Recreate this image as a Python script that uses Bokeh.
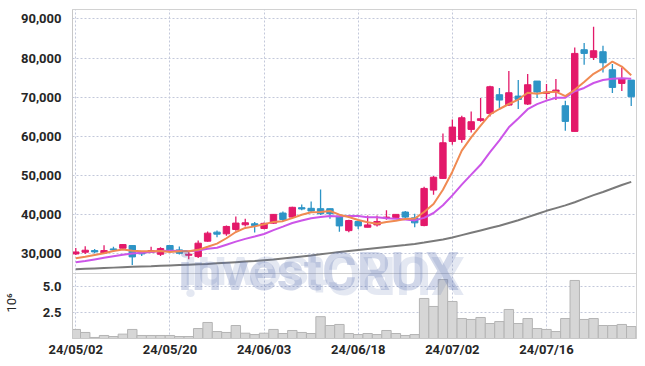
import math
from bokeh.plotting import figure
from bokeh.models import (Range1d, FixedTicker, NumeralTickFormatter, ColumnDataSource, Label, Span, Title)
from bokeh.embed import file_html
from bokeh.resources import INLINE

dates = ["24/05/02", "24/05/03", "24/05/07", "24/05/08", "24/05/09", "24/05/10", "24/05/13", "24/05/14",
         "24/05/16", "24/05/17", "24/05/20", "24/05/21", "24/05/22", "24/05/23", "24/05/24", "24/05/27",
         "24/05/28", "24/05/29", "24/05/30", "24/05/31", "24/06/03", "24/06/04", "24/06/05", "24/06/07",
         "24/06/10", "24/06/11", "24/06/12", "24/06/13", "24/06/14", "24/06/17", "24/06/18", "24/06/19",
         "24/06/20", "24/06/21", "24/06/24", "24/06/25", "24/06/26", "24/06/27", "24/06/28", "24/07/01",
         "24/07/02", "24/07/03", "24/07/04", "24/07/05", "24/07/08", "24/07/09", "24/07/10", "24/07/11",
         "24/07/12", "24/07/15", "24/07/16", "24/07/17", "24/07/18", "24/07/19", "24/07/22", "24/07/23",
         "24/07/24", "24/07/25", "24/07/26", "24/07/29"]

opens = [30000, 30430, 30850, 30260, 31280, 31450, 32140, 30260, 30430, 29910,
         32140, 31030, 29660, 29320, 33250, 35560, 35130, 36240, 37440, 37700,
         36500, 37850, 40430, 39400, 41810, 41640, 41550, 41550, 39650, 35950,
         38280, 36810, 37410, 39200, 39310, 40690, 39220, 37240, 46290, 49280,
         58720, 59230, 61790, 64090, 65870, 70640, 68000, 70300, 68260, 74130,
         70980, 71410, 67830, 61280, 82130, 80170, 81620, 77020, 73530, 74380]
highs = [31540, 31970, 31280, 32220, 31800, 32560, 32140, 30600, 31800, 31710,
         32140, 31880, 30510, 33420, 35730, 35990, 37270, 39580, 38980, 38120,
         38000, 40200, 40860, 42070, 42590, 43360, 46470, 41550, 39650, 38700,
         38280, 39830, 39830, 41120, 40090, 40950, 40260, 47150, 49910, 60770,
         64340, 65280, 66380, 69790, 72940, 72340, 76680, 74380, 75910, 74130,
         73360, 74640, 69110, 82720, 83830, 88000, 83150, 78470, 77620, 74380]
lows = [29740, 30000, 30170, 30090, 30510, 31110, 27180, 29490, 30260, 29490,
        30680, 29830, 28630, 28970, 33080, 34280, 34620, 35900, 37010, 35470,
        36300, 37700, 38280, 39220, 41120, 40430, 39910, 38960, 35690, 35520,
        36380, 36810, 36980, 38700, 38960, 38880, 36810, 37070, 45090, 49110,
        57870, 58380, 61020, 63750, 65110, 67230, 67740, 66980, 68000, 69790,
        69450, 69280, 61450, 61280, 78300, 79490, 76340, 71070, 71580, 67740]
closes = [30500, 30940, 30510, 30850, 31030, 32390, 29230, 30000, 30850, 31370,
          31030, 30170, 29910, 32740, 35300, 35040, 37010, 37870, 37950, 37270,
          37800, 40090, 38790, 41900, 41470, 40950, 40260, 40260, 37150, 38530,
          37150, 37410, 38280, 39400, 40090, 39400, 37930, 46720, 49570, 58380,
          62380, 64770, 63750, 64510, 72680, 69280, 71150, 69450, 73190, 71320,
          71320, 71830, 63830, 81190, 81190, 81870, 78810, 72510, 74720, 70130]
volume_m = [0.87, 0.58, 0.10, 0.29, 0.19, 0.42, 0.87, 0.29, 0.29, 0.29,
            0.29, 0.19, 0.19, 0.96, 1.54, 0.67, 0.58, 1.25, 0.51, 0.38,
            0.51, 0.87, 0.48, 0.77, 0.58, 0.48, 2.10, 1.25, 1.35, 0.48,
            0.38, 0.48, 0.38, 0.77, 0.48, 0.29, 0.38, 3.85, 3.08, 5.67,
            3.56, 1.92, 1.83, 2.02, 1.44, 1.63, 2.79, 1.44, 1.92, 0.96,
            0.87, 0.67, 1.92, 5.58, 1.83, 1.92, 1.25, 1.25, 1.35, 1.15]
ma5 = [28900, 29300, 29740, 30170, 30766, 31144, 30802, 30700, 30700, 30768,
       30496, 30684, 30666, 31044, 31830, 32632, 34000, 35592, 36634, 37028,
       37560, 38176, 38360, 39150, 39990, 40640, 40674, 40968, 40018, 39430,
       38670, 38100, 37704, 38154, 38466, 38916, 39020, 40708, 42742, 46400,
       50996, 56364, 59770, 62758, 65618, 66998, 68274, 69414, 71150, 70878,
       71286, 71422, 70298, 71898, 73872, 75982, 77378, 79114, 77820, 75612]
ma10 = [27900, 28200, 28600, 29000, 29400, 29800, 30100, 30300, 30500, 30767,
        30820, 30743, 30683, 30872, 31299, 31564, 32342, 33129, 33839, 34429,
        35096, 36088, 36976, 37892, 38509, 39100, 39425, 39664, 39584, 39710,
        39655, 39387, 39336, 39086, 38948, 38793, 38560, 39206, 40448, 42433,
        44956, 47692, 50239, 52750, 56009, 58997, 62319, 64592, 66954, 68248,
        69142, 69848, 69856, 71524, 72375, 73634, 74400, 74706, 74825, 74706]
ma60 = [26100, 26200, 26300, 26400, 26500, 26600, 26700, 26800, 26850, 26950,
        27050, 27150, 27250, 27350, 27450, 27600, 27750, 27900, 28050, 28200,
        28400, 28600, 28850, 29100, 29350, 29600, 29900, 30200, 30500, 30750,
        31000, 31250, 31500, 31750, 32000, 32250, 32550, 32900, 33300, 33700,
        34200, 34800, 35400, 36000, 36600, 37200, 37900, 38600, 39400, 40200,
        41000, 41700, 42400, 43200, 44100, 45000, 45800, 46700, 47600, 48400]
price_ticks = [30000, 40000, 50000, 60000, 70000, 80000, 90000]
volume_ticks = [2.5, 5.0]
date_tick_idx = [0, 10, 20, 30, 40, 50]

RED = "#e3196a"
BLUE = "#2d94c6"
GRID = "#c3c8da"
FONT = "Roboto"
TXT = "#262626"

# panel geometry (pixels): price panel 264 px tall, volume panel 65 px tall
PRICE_PX, VOL_PX = 264, 65
PRICE_LO, PRICE_HI = 25000, 92400
VOL_TOP = 6.25
y_start = PRICE_LO - (PRICE_HI - PRICE_LO) * VOL_PX / PRICE_PX
vol_end = VOL_TOP * (PRICE_PX + VOL_PX) / VOL_PX


def vol_to_price(vv):
    return round(y_start + vv / vol_end * (PRICE_HI - y_start))


idx = list(range(len(dates)))
src = ColumnDataSource(dict(
    x=idx, o=opens, h=highs, l=lows, c=closes,
    top=[max(o, c) for o, c in zip(opens, closes)],
    bottom=[min(o, c) for o, c in zip(opens, closes)],
    color=[RED if c >= o else BLUE for o, c in zip(opens, closes)],
    vol=volume_m, ma5=ma5, ma10=ma10, ma60=ma60,
))

p = figure(width=638, height=360, x_range=Range1d(-0.35, 59.56), y_range=Range1d(y_start, PRICE_HI),
           output_backend="svg", toolbar_location=None,
           min_border_left=72, min_border_right=2, min_border_top=9, min_border_bottom=22)
p.extra_y_ranges = {"vol": Range1d(0, vol_end)}

vol_tick_pos = [vol_to_price(t) for t in volume_ticks]
p.yaxis.ticker = FixedTicker(ticks=vol_tick_pos + price_ticks)
p.yaxis.formatter = NumeralTickFormatter(format="0,0")
p.yaxis.major_label_overrides = {pos: f"{t:.1f}" for pos, t in zip(vol_tick_pos, volume_ticks)}
p.xaxis.ticker = FixedTicker(ticks=date_tick_idx)
p.xaxis.major_label_overrides = {i: dates[i] for i in date_tick_idx}

p.outline_line_color = "#d2d2d2"
p.grid.grid_line_color = GRID
p.grid.grid_line_dash = "2 2"
p.grid.grid_line_width = 1
for ax in p.axis:
    ax.axis_line_color = "#c8c8c8"
    ax.major_tick_line_color = None
    ax.minor_tick_line_color = None
    ax.major_tick_out = 0
    ax.major_tick_in = 0
    ax.minor_tick_out = 0
    ax.minor_tick_in = 0
    ax.major_label_text_font = FONT
    ax.major_label_text_font_style = "bold"
    ax.major_label_text_font_size = "13px"
    ax.major_label_text_color = TXT
p.yaxis.major_label_standoff = 11
p.xaxis.major_label_standoff = 3

# volume panel
p.vbar(x="x", width=1.0, top="vol", bottom=0, fill_color="#d6d6d6", line_color="#b4b4b4",
       line_width=1, source=src, y_range_name="vol")
p.add_layout(Span(location=PRICE_LO, dimension="width", line_color="#d2d2d2", line_width=1))

# price panel
p.segment(x0="x", y0="l", x1="x", y1="h", line_color="color", line_width=1.3, source=src)
p.vbar(x="x", width=0.68, top="top", bottom="bottom", fill_color="color", line_color="color",
       line_width=1, source=src)
p.line("x", "ma60", line_color="#7a7a7a", line_width=2, source=src)
p.line("x", "ma10", line_color="#cc55e8", line_width=2, source=src)
p.line("x", "ma5", line_color="#f08a52", line_width=2, source=src)

# watermark and its reflection
p.add_layout(Label(x=10.85, y=PRICE_LO + 300, text="investCRUX", text_font=FONT, text_font_style="bold",
                   text_font_size="53px", text_color="#5a6eb0", text_alpha=0.28,
                   text_align="left", text_baseline="alphabetic"))
p.add_layout(Label(x=41.3, y=PRICE_LO - 500, text="XURCtsevni", angle=math.pi, text_font=FONT,
                   text_font_style="bold", text_font_size="53px", text_color="#5a6eb0",
                   text_alpha=0.16, text_align="left", text_baseline="alphabetic"))

# volume unit label, in the left side panel next to the volume ticks
p.add_layout(Title(text="10\u2076", align="left", offset=26, standoff=0, text_font=FONT,
                   text_font_size="13px", text_font_style="normal", text_color=TXT), "left")

open("out.html", "w").write(file_html(p, INLINE))
